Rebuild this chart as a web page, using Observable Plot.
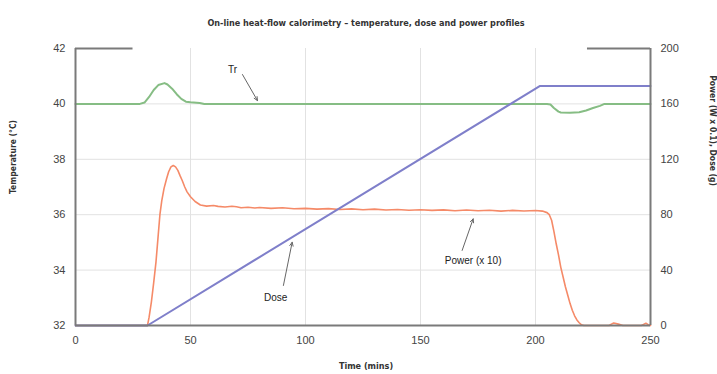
<!DOCTYPE html>
<html>
<head>
<meta charset="utf-8">
<script src="https://cdn.jsdelivr.net/npm/d3@7"></script>
<script src="https://cdn.jsdelivr.net/npm/@observablehq/plot@0.6"></script>
<style>
  html, body { margin: 0; padding: 0; background: #fff; }
  #chart svg { display: block; }
</style>
</head>
<body>
<div id="chart"></div>
<script>
// ---- data ----
const title = "On-line heat-flow calorimetry – temperature, dose and power profiles";
const xLabel = "Time (mins)";
const yLeftLabel = "Temperature (°C)";
const yRightLabel = "Power (W x 0.1), Dose (g)";

const xTicks = [0, 50, 100, 150, 200, 250];
const tempTicks = [32, 34, 36, 38, 40, 42];
const rightTicks = [0, 40, 80, 120, 160, 200];

// Tr (reactor temperature, °C)
const trTime = [0, 28, 30, 32, 34, 36, 38.7, 40, 42, 44, 46, 48, 50, 54, 56, 205, 206.5, 208, 210, 211, 215, 219, 222, 225, 228, 230, 250];
const trTemp = [40, 40, 40.05, 40.25, 40.5, 40.68, 40.75, 40.7, 40.55, 40.35, 40.18, 40.08, 40.06, 40.03, 40, 40, 39.98, 39.85, 39.72, 39.69, 39.68, 39.7, 39.76, 39.85, 39.93, 40, 40];

// Dose (g)
const doseTime = [0, 31.3, 202, 250];
const doseVal = [0, 0, 173, 173];

// Power (x 10), right-axis units
const powTime = [0, 31.3, 32, 33, 34, 35, 36, 36.7, 37.5, 38.5, 39.6, 40.5, 41.5, 42.5, 43.5, 44.5, 45.5, 46.4, 47.5, 48.5, 50, 52, 54.3, 57, 60, 62, 65, 68, 70, 72, 75, 78, 80, 85, 90, 95, 100, 105, 110, 115, 120, 125, 130, 135, 140, 145, 150, 155, 160, 165, 170, 175, 180, 185, 190, 195, 200, 203, 205, 206, 207, 208, 209, 210, 211, 212, 213, 214, 215, 216, 217, 218, 219, 220, 221, 232, 233, 234, 235, 236, 238, 246, 247, 248, 249, 250];
const powVal  = [0, 0, 6, 17, 31, 46, 66, 80, 90, 99, 106, 111, 114.5, 115.5, 114.5, 112, 108, 104.7, 100, 96.5, 93, 89.5, 87, 86.2, 86.6, 86, 85.6, 86.1, 85.7, 85, 85.4, 84.8, 85.2, 84.6, 85, 84.3, 84.6, 84, 84.4, 83.8, 84.2, 83.6, 84, 83.4, 83.8, 83.2, 83.6, 83.1, 83.5, 82.9, 83.4, 82.8, 83.2, 82.6, 83.1, 82.7, 83, 82.6, 81.5, 80, 76, 68, 59, 51, 42, 35, 28, 22, 16, 11, 7, 4, 2, 0.5, 0, 0, 1, 1.8, 1.4, 1, 0, 0, 0.8, 1.6, 0.6, 0];

// annotations: label position and arrow (tail -> tip), in data units
const annLabels = ["Tr", "Dose", "Power (x 10)"];
const annLabelX = [68.3, 87, 172.9];
const annLabelY = [41.24, 32 + 20.2 / 20, 32 + 46.4 / 20];
const annTailX = [72.6, 90.4, 168.1];
const annTailY = [41.06, 32 + 28.9 / 20, 32 + 54.2 / 20];
const annTipX = [79.1, 94.2, 172.9];
const annTipY = [40.12, 32 + 60.1 / 20, 32 + 77.0 / 20];

// frame segments (the box with a gap in the top edge)
const frameTopX1 = [0, 222.6];
const frameTopX2 = [25, 250];

// ---- build ----
const toTemp = v => 32 + v / 20;  // right axis -> left-axis scale
const tr = trTime.map((t, i) => ({t, y: trTemp[i]}));
const dose = doseTime.map((t, i) => ({t, y: toTemp(doseVal[i])}));
const power = powTime.map((t, i) => ({t, y: toTemp(powVal[i])}));
const ann = annLabels.map((s, i) => ({s, lx: annLabelX[i], ly: annLabelY[i], x1: annTailX[i], y1: annTailY[i], x2: annTipX[i], y2: annTipY[i]}));
const topSegs = frameTopX1.map((x1, i) => ({x1, x2: frameTopX2[i]}));

const condensed = "'Liberation Sans Narrow', 'DejaVu Sans Condensed', 'Roboto Condensed', sans-serif";
const frameColor = "#7a7a7a";

const chart = Plot.plot({
  width: 717,
  height: 374,
  marginLeft: 75,
  marginRight: 67,
  marginTop: 48,
  marginBottom: 49,
  style: {fontFamily: "'Liberation Sans', Arial, sans-serif", fontSize: "11px", color: "#444", background: "#fff"},
  x: {domain: [0, 250]},
  y: {domain: [32, 42]},
  marks: [
    Plot.gridX([50, 100, 150, 200], {stroke: "#e2e2e2", strokeOpacity: 1}),
    Plot.gridY([34, 36, 38, 40], {stroke: "#e2e2e2", strokeOpacity: 1}),
    Plot.axisX(xTicks, {tickSize: 0, tickPadding: 11, label: null, fill: "#444"}),
    Plot.axisY(tempTicks, {anchor: "left", tickSize: 0, tickPadding: 10, label: null, fill: "#444"}),
    Plot.axisY(tempTicks, {anchor: "right", tickSize: 0, tickPadding: 10, label: null, fill: "#444",
      tickFormat: (d, i) => String(rightTicks[i])}),
    Plot.line(tr, {x: "t", y: "y", stroke: "#86bd84", strokeWidth: 2}),
    Plot.line(power, {x: "t", y: "y", stroke: "#f58a68", strokeWidth: 1.6}),
    Plot.line(dose, {x: "t", y: "y", stroke: "#7f7fca", strokeWidth: 2}),
    // frame
    Plot.ruleX([0, 250], {y1: 32, y2: 42, stroke: frameColor, strokeWidth: 2}),
    Plot.ruleY([32], {x1: 0, x2: 250, stroke: frameColor, strokeWidth: 2}),
    Plot.ruleY(topSegs, {y: () => 42, x1: "x1", x2: "x2", stroke: frameColor, strokeWidth: 2}),
    // annotations
    Plot.arrow(ann, {x1: "x1", y1: "y1", x2: "x2", y2: "y2", stroke: "#666", strokeWidth: 1, headLength: 6, headAngle: 50}),
    Plot.text(ann, {x: "lx", y: "ly", text: "s", fill: "#222", fontSize: 10}),
    // titles
    Plot.text([title], {frameAnchor: "top", dx: 3, dy: -29, fontFamily: condensed, fontWeight: "bold", fontSize: 9, fill: "#333"}),
    Plot.text([xLabel], {frameAnchor: "bottom", dx: 3, dy: 43, fontFamily: condensed, fontWeight: "bold", fontSize: 9, fill: "#333"}),
    Plot.text([yLeftLabel], {frameAnchor: "left", dx: -62, dy: 7, rotate: -90, fontFamily: condensed, fontWeight: "bold", fontSize: 8.5, fill: "#333"}),
    Plot.text([yRightLabel], {frameAnchor: "right", dx: 62, dy: -1, rotate: 90, fontFamily: condensed, fontWeight: "bold", fontSize: 8.5, fill: "#333"})
  ]
});
document.getElementById("chart").appendChild(chart);
</script>
</body>
</html>
